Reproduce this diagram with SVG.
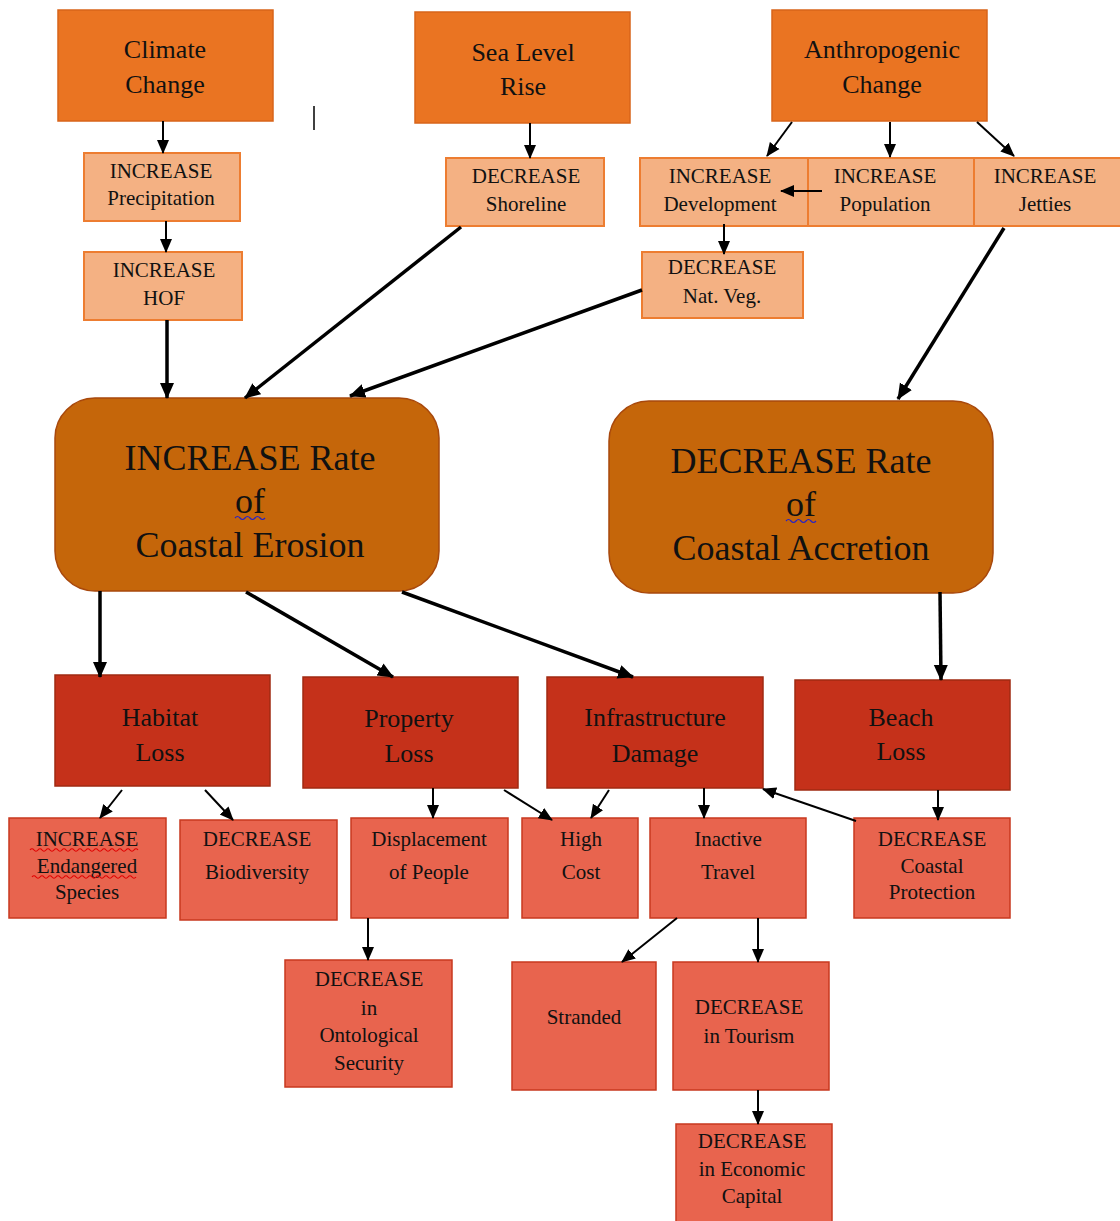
<svg xmlns="http://www.w3.org/2000/svg" width="1120" height="1221" viewBox="0 0 1120 1221" font-family="'Liberation Serif', 'Times New Roman', Tinos, 'DejaVu Serif', 'Noto Serif', serif">
<style>
text{font-family:'Liberation Serif', 'Times New Roman', Tinos, 'DejaVu Serif', 'Noto Serif', serif;fill:#111;text-anchor:middle}
.t1 rect{fill:#EA7422;stroke:#D8641A;stroke-width:1.5}
.t1 text{font-size:26px}
.t2 rect{fill:#F4B183;stroke:#ED7D31;stroke-width:2}
.t2 text{font-size:21px}
.t3 rect{fill:#C5660A;stroke:#A8480C;stroke-width:1.5}
.t3 text{font-size:36px}
.t4 rect{fill:#C5311A;stroke:#A02A12;stroke-width:1.5}
.t4 text{font-size:26px}
.t5 rect{fill:#E8644E;stroke:#C8391F;stroke-width:1.5}
.t5 text{font-size:21px}
.c line{stroke:#000;fill:none}
.thin{stroke-width:2;marker-end:url(#a)}
.thick{stroke-width:3.5;marker-end:url(#b)}
.sq{fill:none;stroke-width:1.2}
</style>
<defs>
<marker id="a" markerUnits="userSpaceOnUse" markerWidth="14" markerHeight="14" viewBox="0 0 14 14" refX="13" refY="7" orient="auto"><path d="M0,1 L14,7 L0,13 Z" fill="#000"/></marker>
<marker id="b" markerUnits="userSpaceOnUse" markerWidth="16" markerHeight="16" viewBox="0 0 16 16" refX="15" refY="8" orient="auto"><path d="M0,1 L16,8 L0,15 Z" fill="#000"/></marker>
</defs>

<line x1="314" y1="106" x2="314" y2="130" stroke="#000" stroke-width="1.5"/>

<g id="climate" class="t1"><rect x="58" y="10" width="215" height="111"/><text x="165" y="58">Climate</text><text x="165" y="93">Change</text></g>
<g id="sealevel" class="t1"><rect x="415" y="12" width="215" height="111"/><text x="523" y="61">Sea Level</text><text x="523" y="95">Rise</text></g>
<g id="anthro" class="t1"><rect x="772" y="10" width="215" height="111"/><text x="882" y="58">Anthropogenic</text><text x="882" y="93">Change</text></g>

<g id="precip" class="t2"><rect x="84" y="153" width="156" height="68"/><text x="161" y="178">INCREASE</text><text x="161" y="205">Precipitation</text></g>
<g id="hof" class="t2"><rect x="84" y="252" width="158" height="68"/><text x="164" y="277">INCREASE</text><text x="164" y="305">HOF</text></g>
<g id="shoreline" class="t2"><rect x="446" y="158" width="158" height="68"/><text x="526" y="183">DECREASE</text><text x="526" y="211">Shoreline</text></g>
<g id="development" class="t2"><rect x="640" y="158" width="168" height="68"/><text x="720" y="183">INCREASE</text><text x="720" y="211">Development</text></g>
<g id="population" class="t2"><rect x="808" y="158" width="166" height="68"/><text x="885" y="183">INCREASE</text><text x="885" y="211">Population</text></g>
<g id="jetties" class="t2"><rect x="974" y="158" width="150" height="68"/><text x="1045" y="183">INCREASE</text><text x="1045" y="211">Jetties</text></g>
<g id="natveg" class="t2"><rect x="642" y="252" width="161" height="66"/><text x="722" y="274">DECREASE</text><text x="722" y="303">Nat. Veg.</text></g>

<g id="erosion" class="t3"><rect x="55" y="398" width="384" height="193" rx="40"/><text x="250" y="470">INCREASE Rate</text><text x="250" y="513">of</text><text x="250" y="557">Coastal Erosion</text><path class="sq" stroke="#2222cc" d="M235,518 q2.5,-3 5,0 t5,0 t5,0 t5,0 t5,0 t5,0"/></g>
<g id="accretion" class="t3"><rect x="609" y="401" width="384" height="192" rx="40"/><text x="801" y="473">DECREASE Rate</text><text x="801" y="516">of</text><text x="801" y="560">Coastal Accretion</text><path class="sq" stroke="#2222cc" d="M786,521 q2.5,-3 5,0 t5,0 t5,0 t5,0 t5,0 t5,0"/></g>

<g id="habitat" class="t4"><rect x="55" y="675" width="215" height="111"/><text x="160" y="726">Habitat</text><text x="160" y="761">Loss</text></g>
<g id="property" class="t4"><rect x="303" y="677" width="215" height="111"/><text x="409" y="727">Property</text><text x="409" y="762">Loss</text></g>
<g id="infra" class="t4"><rect x="547" y="677" width="216" height="111"/><text x="655" y="726">Infrastructure</text><text x="655" y="762">Damage</text></g>
<g id="beach" class="t4"><rect x="795" y="680" width="215" height="110"/><text x="901" y="726">Beach</text><text x="901" y="760">Loss</text></g>

<g id="endangered" class="t5"><rect x="9" y="818" width="157" height="100"/><text x="87" y="846">INCREASE</text><text x="87" y="873">Endangered</text><text x="87" y="899">Species</text><path class="sq" stroke="#e00000" d="M30,850 q2,-2.5 4,0 t4,0 t4,0 t4,0 t4,0 t4,0 t4,0 t4,0 t4,0 t4,0 t4,0 t4,0 t4,0 t4,0 t4,0 t4,0 t4,0 t4,0 t4,0 t4,0 t4,0 t4,0 t4,0 t4,0 t4,0 t4,0 t4,0"/><path class="sq" stroke="#e00000" d="M32,877 q2,-2.5 4,0 t4,0 t4,0 t4,0 t4,0 t4,0 t4,0 t4,0 t4,0 t4,0 t4,0 t4,0 t4,0 t4,0 t4,0 t4,0 t4,0 t4,0 t4,0 t4,0 t4,0 t4,0 t4,0 t4,0 t4,0 t4,0"/></g>
<g id="biodiversity" class="t5"><rect x="180" y="820" width="157" height="100"/><text x="257" y="846">DECREASE</text><text x="257" y="879">Biodiversity</text></g>
<g id="displacement" class="t5"><rect x="351" y="818" width="157" height="100"/><text x="429" y="846">Displacement</text><text x="429" y="879">of People</text></g>
<g id="highcost" class="t5"><rect x="522" y="818" width="116" height="100"/><text x="581" y="846">High</text><text x="581" y="879">Cost</text></g>
<g id="inactive" class="t5"><rect x="650" y="818" width="156" height="100"/><text x="728" y="846">Inactive</text><text x="728" y="879">Travel</text></g>
<g id="protection" class="t5"><rect x="854" y="818" width="156" height="100"/><text x="932" y="846">DECREASE</text><text x="932" y="873">Coastal</text><text x="932" y="899">Protection</text></g>
<g id="ontological" class="t5"><rect x="285" y="960" width="167" height="127"/><text x="369" y="986">DECREASE</text><text x="369" y="1015">in</text><text x="369" y="1042">Ontological</text><text x="369" y="1070">Security</text></g>
<g id="stranded" class="t5"><rect x="512" y="962" width="144" height="128"/><text x="584" y="1024">Stranded</text></g>
<g id="tourism" class="t5"><rect x="673" y="962" width="156" height="128"/><text x="749" y="1014">DECREASE</text><text x="749" y="1043">in Tourism</text></g>
<g id="economic" class="t5"><rect x="676" y="1124" width="156" height="100"/><text x="752" y="1148">DECREASE</text><text x="752" y="1176">in Economic</text><text x="752" y="1203">Capital</text></g>

<g id="connectors" class="c">
<line class="thin" x1="163" y1="121" x2="163" y2="153"/>
<line class="thin" x1="166" y1="221" x2="166" y2="252"/>
<line class="thick" x1="167" y1="320" x2="167" y2="398"/>
<line class="thin" x1="530" y1="123" x2="530" y2="158"/>
<line class="thick" x1="461" y1="227" x2="245" y2="398"/>
<line class="thin" x1="792" y1="122" x2="767" y2="156"/>
<line class="thin" x1="890" y1="122" x2="890" y2="157"/>
<line class="thin" x1="977" y1="122" x2="1014" y2="156"/>
<line class="thin" x1="822" y1="191" x2="781" y2="191"/>
<line class="thin" x1="724" y1="224" x2="724" y2="254"/>
<line class="thick" x1="642" y1="290" x2="350" y2="396"/>
<line class="thick" x1="1004" y1="228" x2="898" y2="399"/>
<line class="thick" x1="100" y1="591" x2="100" y2="677"/>
<line class="thick" x1="246" y1="592" x2="393" y2="677"/>
<line class="thick" x1="402" y1="592" x2="633" y2="677"/>
<line class="thick" x1="940" y1="592" x2="941" y2="680"/>
<line class="thin" x1="122" y1="790" x2="100" y2="818"/>
<line class="thin" x1="205" y1="790" x2="233" y2="820"/>
<line class="thin" x1="433" y1="788" x2="433" y2="818"/>
<line class="thin" x1="504" y1="790" x2="552" y2="820"/>
<line class="thin" x1="609" y1="790" x2="591" y2="818"/>
<line class="thin" x1="704" y1="788" x2="704" y2="818"/>
<line class="thin" x1="856" y1="821" x2="763" y2="789"/>
<line class="thin" x1="938" y1="790" x2="938" y2="820"/>
<line class="thin" x1="368" y1="918" x2="368" y2="960"/>
<line class="thin" x1="677" y1="918" x2="622" y2="962"/>
<line class="thin" x1="758" y1="918" x2="758" y2="962"/>
<line class="thin" x1="758" y1="1090" x2="758" y2="1124"/>
</g>
</svg>
